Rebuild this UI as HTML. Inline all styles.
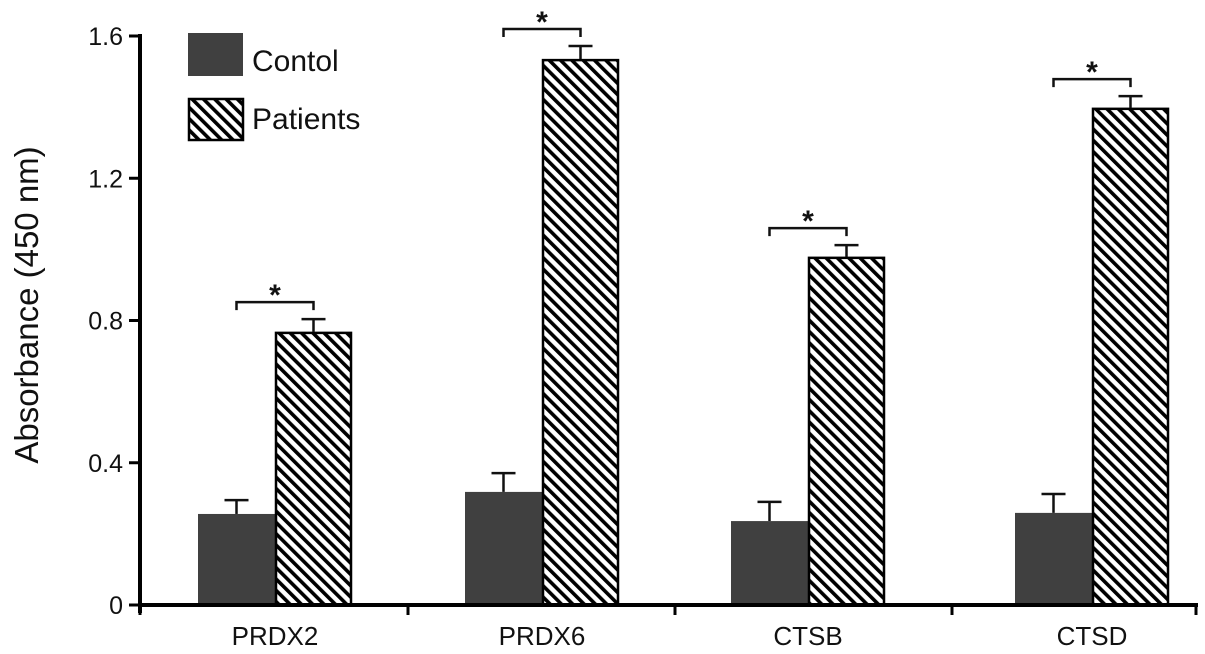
<!DOCTYPE html>
<html><head><meta charset="utf-8"><style>
body{margin:0;background:#fff}
svg{display:block;font-family:"Liberation Sans",Arial,sans-serif}
</style></head><body>
<svg id="chart" width="1205" height="654" viewBox="0 0 1205 654">
<defs>
<pattern id="hatch" patternUnits="userSpaceOnUse" width="8" height="8" patternTransform="rotate(-45)">
<rect width="8" height="8" fill="#fff"/>
<rect x="0" y="0" width="3.6" height="8" fill="#000"/>
</pattern>
</defs>
<g id="plot"></g>
</svg>
<script>
const categories = ["PRDX2","PRDX6","CTSB","CTSD"];
const controlValues = [0.256, 0.318, 0.236, 0.259];
const controlErrors = [0.039, 0.053, 0.054, 0.053];
const patientValues = [0.768, 1.535, 0.979, 1.398];
const patientErrors = [0.036, 0.037, 0.033, 0.033];
const yTicks = [0, 0.4, 0.8, 1.2, 1.6];
const yTickLabels = ["0","0.4","0.8","1.2","1.6"];
const sigLabels = ["*","*","*","*"];

const NS = "http://www.w3.org/2000/svg";
const g = document.getElementById('plot');
const y0 = 605, yTop = 36, vMax = 1.6;
function yScale(v){ return y0 - (v / vMax) * (y0 - yTop); }
const groupSplit = [275, 542, 808, 1092];
const barW = 77;
function xControl(i){ return groupSplit[i] - barW; }
function xPatient(i){ return groupSplit[i]; }
function el(tag, attrs){ const e = document.createElementNS(NS, tag); for (const k in attrs) e.setAttribute(k, attrs[k]); g.appendChild(e); return e; }

for (let i = 0; i < categories.length; i++) {
  const cx = xControl(i), px = xPatient(i);
  const cy = yScale(controlValues[i]), py = yScale(patientValues[i]);
  const cc = cx + barW/2, pc = px + barW/2;
  const ce = yScale(controlValues[i] + controlErrors[i]);
  let l = el('line', {x1:cc, x2:cc, y1:cy, y2:ce, stroke:'#111', 'stroke-width':2.5});
  
  
  l = el('line', {x1:cc-12, x2:cc+12, y1:ce, y2:ce, stroke:'#111', 'stroke-width':2.5});
  
  
  const pe = yScale(patientValues[i] + patientErrors[i]);
  l = el('line', {x1:pc, x2:pc, y1:py, y2:pe, stroke:'#111', 'stroke-width':2.5});
  
  
  l = el('line', {x1:pc-12, x2:pc+12, y1:pe, y2:pe, stroke:'#111', 'stroke-width':2.5});
  
  

  const rc = el('rect', {x:cx, y:cy, width:barW, height:y0-cy, fill:'#404040'});
  
  
  const rp = el('rect', {x:px+1, y:py+1, width:barW-2, height:y0-py-1, fill:'url(#hatch)', stroke:'#000', 'stroke-width':2.5});
  
  

  const by = pe - 17;
  const br = el('path', {d:`M${cc},${by+8} V${by} H${pc} V${by+8}`, fill:'none', stroke:'#111', 'stroke-width':2.5});
  
  
  const st = el('text', {x:(cc+pc)/2, y:by+3, 'font-size':30, 'font-weight':'bold', 'text-anchor':'middle', fill:'#111'});
  st.textContent = sigLabels[i];
  
  

  const lab = el('text', {x:groupSplit[i], y:645, 'font-size':26, 'text-anchor':'middle', fill:'#111'});
  lab.textContent = categories[i];
  
  
}

let ax = el('line', {x1:140, x2:140, y1:34, y2:613, stroke:'#000', 'stroke-width':4});


ax = el('line', {x1:138, x2:1198, y1:605, y2:605, stroke:'#000', 'stroke-width':4});


const xTickPos = [140, 408, 675, 952, 1196];
for (const x of xTickPos) {
  const t = el('line', {x1:x, x2:x, y1:605, y2:615, stroke:'#000', 'stroke-width':3});
  
  
}
for (let i = 0; i < yTicks.length; i++) {
  const y = yScale(yTicks[i]);
  const t = el('line', {x1:129, x2:140, y1:y, y2:y, stroke:'#000', 'stroke-width':3});
  
  
  const tl = el('text', {x:123, y:y+9, 'font-size':25, 'text-anchor':'end', fill:'#111'});
  tl.textContent = yTickLabels[i];
  
  
}
const yt = el('text', {x:0, y:0, 'font-size':33, 'text-anchor':'middle', fill:'#111', transform:'translate(38,305) rotate(-90)'});
yt.textContent = 'Absorbance (450 nm)';



let lg = el('rect', {x:188, y:33, width:55, height:43, fill:'#404040'});


lg = el('text', {x:252, y:71, 'font-size':30, fill:'#111'});
lg.textContent = 'Contol';


lg = el('rect', {x:189, y:99, width:54, height:41, fill:'url(#hatch)', stroke:'#000', 'stroke-width':2.5});


lg = el('text', {x:252, y:129, 'font-size':30, fill:'#111'});
lg.textContent = 'Patients';


</script>
</body></html>
